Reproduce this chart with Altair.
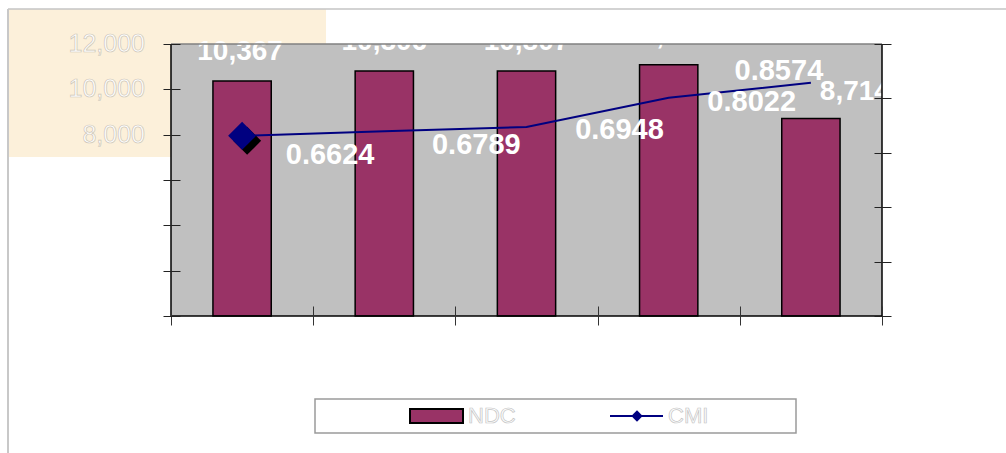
import altair as alt
import pandas as pd

# ---- data -------------------------------------------------------------
periods = ["P1", "P2", "P3", "P4", "P5"]
ndc = [10367, 10806, 10807, 11082, 8714]
cmi = [0.6624, 0.6789, 0.6948, 0.8022, 0.8574]
ndc_ticks = [0, 2000, 4000, 6000, 8000, 10000, 12000]
cmi_ticks = [0, 0.2, 0.4, 0.6, 0.8, 1.0]

df = pd.DataFrame({"period": periods, "ndc": ndc, "cmi": cmi, "i": list(range(len(periods)))})
tick_df = pd.DataFrame({"v": ndc_ticks})

# ---- styling ----------------------------------------------------------
W, H = 711, 272
FONT = "Liberation Sans"
BAR = "#993366"
NAVY = "#000080"
PLOT_BG = "#c0c0c0"
CREAM = "#fcf0da"

# label nudges (dx, dy) in pixels
bar_label_nudge = [(-2, -29), (0, -29), (0, -29), (0, -29), (44, -26)]
cmi_label_nudge = [(88, 19), (92, 14), (93, 3), (83, 4), (-32, -12)]

one = alt.InlineData(values=[{"k": 0}])

x_axis = alt.Axis(title=None, labels=False, domain=False, grid=False,
                  tickBand="extent", tickSize=19, offset=-10,
                  tickColor="#333333", tickWidth=1, zindex=1)
x_enc = alt.X("period:N", sort=periods,
              scale=alt.Scale(paddingInner=0, paddingOuter=0), axis=x_axis)

ndc_scale = alt.Scale(domain=[0, 12000], nice=False, zero=True)
ndc_axis = alt.Axis(title=None, labels=False, domain=False, grid=False, orient="left",
                    values=ndc_ticks, tickSize=17, offset=-9,
                    tickColor="#222222", tickWidth=1, zindex=1)
cmi_scale = alt.Scale(domain=[0, 1], nice=False, zero=True)
cmi_axis = alt.Axis(title=None, labels=False, domain=False, grid=False, orient="right",
                    values=cmi_ticks, tickSize=17, offset=-8,
                    tickColor="#222222", tickWidth=1, zindex=1)

# ---- background pieces --------------------------------------------------
cream = alt.Chart(one).mark_rect(fill=CREAM).encode(
    x=alt.value(-163), x2=alt.value(155), y=alt.value(-35), y2=alt.value(113))
frame_top = alt.Chart(one).mark_rule(color="#c4c4c4", strokeWidth=1.5).encode(
    x=alt.value(-163), x2=alt.value(835), y=alt.value(-35))
frame_left = alt.Chart(one).mark_rule(color="#c8c8c8", strokeWidth=2).encode(
    x=alt.value(-163), y=alt.value(-35), y2=alt.value(409))
plot_bg = alt.Chart(one).mark_rect(fill=PLOT_BG).encode(
    x=alt.value(0), x2=alt.value(W), y=alt.value(0), y2=alt.value(H))
back = alt.layer(cream, frame_top, frame_left, plot_bg)

# ---- NDC bars -----------------------------------------------------------
y_ndc = alt.Y("ndc:Q", scale=ndc_scale, axis=ndc_axis)
bars = alt.Chart(df).mark_bar(
    width=alt.RelativeBandSize(0.41), fill=BAR, stroke="black", strokeWidth=1.5
).encode(x=x_enc, y=y_ndc)

bar_labels = [
    alt.Chart(df).transform_filter(alt.datum.i == i).mark_text(
        dx=dx, dy=dy, font=FONT, fontSize=28, fontWeight="bold",
        fill="white", align="center", baseline="middle"
    ).encode(x=x_enc, y=y_ndc, text=alt.Text("ndc:Q", format=","))
    for i, (dx, dy) in enumerate(bar_label_nudge)
]

left_labels = alt.Chart(tick_df).mark_text(
    font=FONT, fontSize=25, fill="white", strokeWidth=0.7,
    align="right", baseline="middle"
).encode(
    y=alt.Y("v:Q", scale=ndc_scale, axis=ndc_axis),
    x=alt.value(-26),
    text=alt.Text("v:Q", format=","),
    stroke=alt.condition("datum.v >= 8000", alt.value("#cdc6b8"), alt.value("transparent")),
)

ndc_layer = alt.layer(bars, *bar_labels, left_labels)

# ---- CMI line -----------------------------------------------------------
y_cmi = alt.Y("cmi:Q", scale=cmi_scale, axis=cmi_axis)
line = alt.Chart(df).mark_line(color=NAVY, strokeWidth=2).encode(x=x_enc, y=y_cmi)

shadow = alt.Chart(df).transform_filter(alt.datum.i == 0).mark_point(
    shape="M-0.64,0.36L0.36,-0.64L1.36,0.36L0.36,1.36Z",
    size=784, filled=True, color="black", opacity=1
).encode(x=x_enc, y=y_cmi)
marker = alt.Chart(df).transform_filter(alt.datum.i == 0).mark_point(
    shape="diamond", size=784, filled=True, color=NAVY, opacity=1
).encode(x=x_enc, y=y_cmi)

cmi_labels = [
    alt.Chart(df).transform_filter(alt.datum.i == i).mark_text(
        dx=dx, dy=dy, font=FONT, fontSize=29, fontWeight="bold",
        fill="white", align="center", baseline="middle"
    ).encode(x=x_enc, y=y_cmi, text=alt.Text("cmi:Q", format=".4f"))
    for i, (dx, dy) in enumerate(cmi_label_nudge)
]

cmi_layer = alt.layer(line, shadow, marker, *cmi_labels)

# ---- plot frame ---------------------------------------------------------
edge_top = alt.Chart(one).mark_rule(color="#808080", strokeWidth=1.5).encode(
    x=alt.value(0), x2=alt.value(W), y=alt.value(0))
edge_left = alt.Chart(one).mark_rule(color="black", strokeWidth=1.5).encode(
    x=alt.value(0), y=alt.value(0), y2=alt.value(H))
edge_bottom = alt.Chart(one).mark_rule(color="black", strokeWidth=1.5).encode(
    x=alt.value(0), x2=alt.value(W), y=alt.value(H))
edge_right = alt.Chart(one).mark_rule(color="black", strokeWidth=1.5).encode(
    x=alt.value(W), y=alt.value(0), y2=alt.value(H))

# ---- legend -------------------------------------------------------------
leg_box = alt.Chart(one).mark_rect(fill="white", stroke="#9a9a9a", strokeWidth=1.5).encode(
    x=alt.value(144), x2=alt.value(625), y=alt.value(355), y2=alt.value(389))
leg_bar = alt.Chart(one).mark_rect(fill=BAR, stroke="black", strokeWidth=2).encode(
    x=alt.value(239), x2=alt.value(292), y=alt.value(365), y2=alt.value(379))
leg_line = alt.Chart(one).mark_rule(color=NAVY, strokeWidth=2).encode(
    x=alt.value(439), x2=alt.value(492), y=alt.value(372))
leg_marker = alt.Chart(one).mark_point(
    shape="diamond", size=130, filled=True, color=NAVY, opacity=1
).encode(x=alt.value(466), y=alt.value(372))
leg_text_style = dict(font=FONT, fontSize=22, fill="white", stroke="#c4c4c4",
                      strokeWidth=0.7, align="left", baseline="middle")
leg_ndc = alt.Chart(one).mark_text(text="NDC", **leg_text_style).encode(
    x=alt.value(297), y=alt.value(372))
leg_cmi = alt.Chart(one).mark_text(text="CMI", **leg_text_style).encode(
    x=alt.value(497), y=alt.value(372))

front = alt.layer(edge_top, edge_left, edge_bottom, edge_right,
                  leg_box, leg_bar, leg_line, leg_marker, leg_ndc, leg_cmi)

chart = alt.layer(back, ndc_layer, cmi_layer, front).resolve_scale(
    y="independent"
).properties(
    width=W, height=H,
    padding={"left": 171, "top": 44, "right": 124, "bottom": 137},
    autosize=alt.AutoSizeParams(type="none"),
    background="white",
).configure_view(stroke=None)

chart.save("out.html", embed_options={"renderer": "svg", "actions": False})
